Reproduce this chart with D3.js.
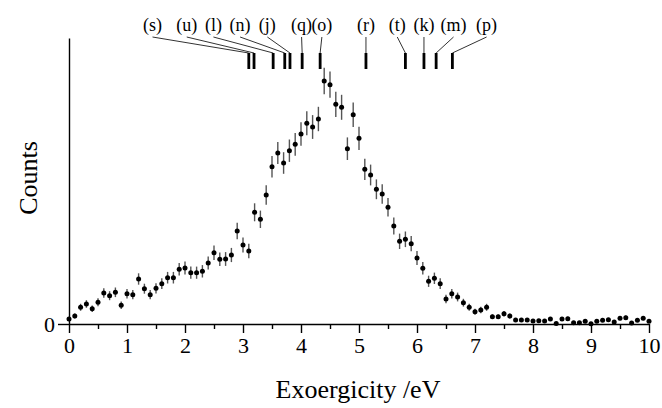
<!DOCTYPE html>
<html><head><meta charset="utf-8">
<script src="https://cdn.jsdelivr.net/npm/d3@7"></script>
<style>html,body{margin:0;padding:0;background:#fff}svg{display:block}</style>
</head><body><svg id="c" width="662" height="408"></svg>
<script>
const energy = [0.0,0.1,0.2,0.3,0.4,0.5,0.6,0.7,0.8,0.9,
  1.0,1.1,1.2,1.3,1.4,1.5,1.6,1.7,1.8,1.9,
  2.0,2.1,2.2,2.3,2.4,2.5,2.6,2.7,2.8,2.9,
  3.0,3.1,3.2,3.3,3.4,3.5,3.6,3.7,3.8,3.9,
  4.0,4.1,4.2,4.3,4.4,4.5,4.6,4.7,4.8,4.9,
  5.0,5.1,5.2,5.3,5.4,5.5,5.6,5.7,5.8,5.9,
  6.0,6.1,6.2,6.3,6.4,6.5,6.6,6.7,6.8,6.9,
  7.0,7.1,7.2,7.3,7.4,7.5,7.6,7.7,7.8,7.9,
  8.0,8.1,8.2,8.3,8.4,8.5,8.6,8.7,8.8,8.9,
  9.0,9.1,9.2,9.3,9.4,9.5,9.6,9.7,9.8,9.9,10.0];
const counts = [5,8,16.7,20,15.3,21.7,31,28.3,31.7,18.7,
  30.3,29.3,45,35.3,29.3,35.7,40.3,46.3,46.3,54.7,
  56,51.3,51.3,52.7,61,71.3,64.7,65,69,93,
  79,73,111.7,104.7,129,157.3,171,161,173.3,179.7,
  190,200.7,197,205,243,239.3,219.7,216.7,175.3,209.3,
  185.7,154.7,149,134.7,130,116.7,98,82.7,84.7,80.3,
  66,55.7,42.7,45.7,40.3,25,30.3,27,21.3,16.7,
  12.3,14,16.7,7.3,7.3,10.3,8,4,4,4,
  3,3.3,3,5,0.5,5,5.3,1.3,1.3,2.7,
  0.3,2.7,3.7,4.3,2,5.7,6.3,1,3.7,5.7,2.7];
const errors = [1.9,2.4,3.5,3.8,3.3,4.0,4.7,4.5,4.8,3.7,
  4.7,4.6,5.7,5.0,4.6,5.1,5.4,5.8,5.8,6.3,
  6.4,6.1,6.1,6.2,6.6,7.2,6.8,6.9,7.1,8.2,
  7.6,7.3,9.0,8.7,9.7,10.7,11.1,10.8,11.2,11.4,
  11.7,12.0,11.9,12.2,13.3,13.1,12.6,12.5,11.3,12.3,
  11.6,10.6,10.4,9.9,9.7,9.2,8.4,7.7,7.8,7.6,
  6.9,6.3,5.6,5.7,5.4,4.3,4.7,4.4,3.9,3.5,
  3.0,3.2,3.5,2.3,2.3,2.7,2.4,1.7,1.7,1.7,
  1.5,1.5,1.5,1.9,0.6,1.9,2.0,1.0,1.0,1.4,
  0.5,1.4,1.6,1.8,1.2,2.0,2.1,0.9,1.6,2.0,1.4];
const xTickValues = [0,1,2,3,4,5,6,7,8,9,10];
const xMinorTicks = [0.5,1.5,2.5,3.5,4.5,5.5,6.5,7.5,8.5,9.5];
const yTickValues = [0];
const assignLabels = ["(s)","(u)","(l)","(n)","(j)","(q)","(o)","(r)","(t)","(k)","(m)","(p)"];
const assignEnergy = [3.10,3.19,3.52,3.72,3.81,4.02,4.33,5.12,5.80,6.12,6.33,6.61];
const labelEnergy  = [1.44,2.03,2.49,2.95,3.42,4.01,4.36,5.12,5.66,6.12,6.63,7.20];

const font = "'Liberation Serif','Times New Roman',serif";
const svg = d3.select("#c");
const x = d3.scaleLinear().domain([0,10]).range([69,649]);
const y = d3.scaleLinear().domain([0,286]).range([324,38]);

// x axis
const gx = svg.append("g").attr("transform","translate(0,324)")
  .call(d3.axisBottom(x).tickValues(xTickValues).tickFormat(d3.format("d"))
    .tickSize(9).tickSizeOuter(0).tickPadding(4));
gx.selectAll("text").attr("font-family",font).attr("font-size",22).attr("fill","#000");
gx.selectAll("line,path").attr("stroke","#000").attr("stroke-width",1.4);
const gxm = svg.append("g").attr("transform","translate(0,324)")
  .call(d3.axisBottom(x).tickValues(xMinorTicks).tickFormat("").tickSize(5).tickSizeOuter(0));
gxm.select("path").remove();
gxm.selectAll("line").attr("stroke","#000").attr("stroke-width",1.4);

// y axis
const gy = svg.append("g").attr("transform","translate(69,0)")
  .call(d3.axisLeft(y).tickValues(yTickValues).tickFormat(d3.format("d"))
    .tickSize(11).tickSizeOuter(0).tickPadding(3));
gy.selectAll("text").attr("font-family",font).attr("font-size",22).attr("fill","#000");
gy.selectAll("line,path").attr("stroke","#000").attr("stroke-width",1.4);

// axis titles
svg.append("text").attr("x",358).attr("y",398).attr("text-anchor","middle")
  .attr("font-family",font).attr("font-size",26).text("Exoergicity /eV");
svg.append("text").attr("transform","translate(37,178) rotate(-90)").attr("text-anchor","middle")
  .attr("font-family",font).attr("font-size",26).text("Counts");

// data: error bars + points
const pts = energy.map((e,i)=>({e, c:counts[i], s:errors[i]}));
svg.append("g").selectAll("line").data(pts).join("line")
  .attr("x1",d=>x(d.e)).attr("x2",d=>x(d.e))
  .attr("y1",d=>y(d.c-d.s)).attr("y2",d=>y(d.c+d.s))
  .attr("stroke","#555").attr("stroke-width",1.4);
svg.append("g").selectAll("circle").data(pts).join("circle")
  .attr("cx",d=>x(d.e)).attr("cy",d=>y(d.c)).attr("r",2.5).attr("fill","#000");

// assignment markers
const ann = assignLabels.map((t,i)=>({t, e:assignEnergy[i], le:labelEnergy[i]}));
const ga = svg.append("g");
ga.selectAll("line").data(ann).join("line")
  .attr("x1",d=>x(d.le)).attr("y1",37).attr("x2",d=>x(d.e)).attr("y2",53)
  .attr("stroke","#333").attr("stroke-width",1);
ga.selectAll("rect").data(ann).join("rect")
  .attr("x",d=>x(d.e)-1.4).attr("y",53).attr("width",2.8).attr("height",16).attr("fill","#000");
ga.selectAll("text").data(ann).join("text")
  .attr("x",d=>x(d.le)).attr("y",31).attr("text-anchor","middle")
  .attr("font-family",font).attr("font-size",18).text(d=>d.t);
</script></body></html>
